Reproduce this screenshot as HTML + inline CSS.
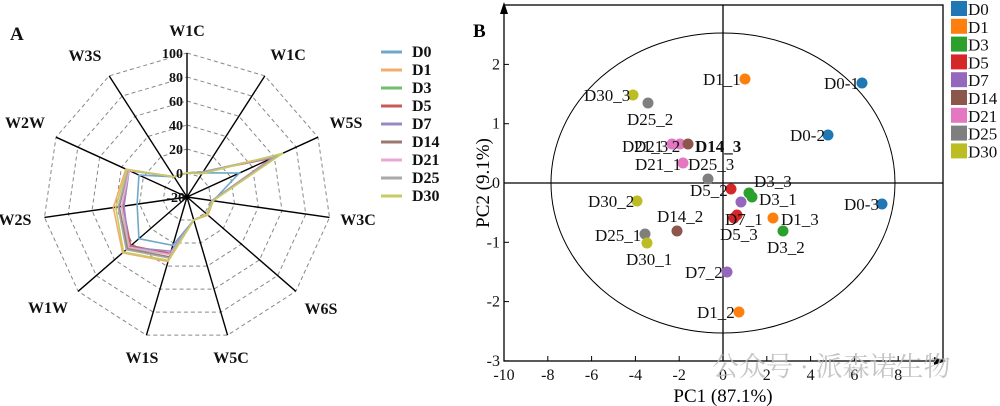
<!DOCTYPE html>
<html><head><meta charset="utf-8"><style>
html,body{margin:0;padding:0;background:#fff;width:1000px;height:406px;overflow:hidden}
svg{display:block}
text{font-family:"Liberation Serif","Noto Serif CJK SC",serif}
</style></head><body>
<svg id="s" width="1000" height="406" viewBox="0 0 1000 406" xmlns="http://www.w3.org/2000/svg">
<g id="radar"></g>
<g font-weight="bold" font-size="16" text-anchor="middle" fill="#111">
<text x="10" y="40" font-size="19" text-anchor="start">A</text>
<text x="187" y="36">W1C</text>
<text x="288" y="60">W1C</text>
<text x="346" y="128">W5S</text>
<text x="358" y="225">W3C</text>
<text x="321" y="314">W6S</text>
<text x="231" y="363">W5C</text>
<text x="142" y="363">W1S</text>
<text x="48" y="313">W1W</text>
<text x="15" y="225">W2S</text>
<text x="25" y="128">W2W</text>
<text x="85" y="61">W3S</text>
</g>
<g font-weight="bold" font-size="14" text-anchor="end" fill="#111">
<text x="183" y="58">100</text><text x="183" y="82">80</text><text x="183" y="106">60</text>
<text x="183" y="130">40</text><text x="183" y="154">20</text><text x="183" y="178">0</text><text x="185" y="202">-20</text>
</g>
<g id="leg" font-weight="bold" font-size="16" fill="#111"></g>

<text x="473" y="37" font-size="19" font-weight="bold">B</text>
<rect x="504" y="5" width="439" height="356" fill="none" stroke="#000" stroke-width="1.3"/>
<polygon points="504,2 500,14 508,14" fill="#000"/>
<polygon points="946,361 934,357 934,365" fill="#000"/>
<line x1="723" y1="5" x2="723" y2="361" stroke="#000" stroke-width="1.3"/>
<line x1="504" y1="183" x2="943" y2="183" stroke="#000" stroke-width="1.3"/>
<ellipse cx="723" cy="183" rx="172" ry="150" fill="none" stroke="#000" stroke-width="1"/>
<g id="ticks" font-size="16" fill="#111"></g>
<text x="723" y="402" font-size="19" text-anchor="middle">PC1 (87.1%)</text>
<text transform="translate(489,183) rotate(-90)" font-size="19" text-anchor="middle">PC2 (9.1%)</text>
<g id="pts"></g>
<g font-size="17" fill="#111">
<text x="703" y="85">D1_1</text>
<text x="824" y="89">D0-1</text>
<text x="584" y="101">D30_3</text>
<text x="627" y="125">D25_2</text>
<text x="790" y="141">D0-2</text>
<text x="622" y="152">D21_3</text><text x="634" y="152">D21_2</text>
<text x="695" y="152" font-weight="bold">D14_3</text>
<text x="635" y="170">D21_1</text><text x="688" y="170">D25_3</text>
<text x="754" y="187">D3_3</text>
<text x="690" y="196">D5_2</text>
<text x="759" y="205">D3_1</text>
<text x="588" y="207">D30_2</text>
<text x="844" y="210">D0-3</text>
<text x="657" y="222">D14_2</text>
<text x="725" y="225">D7_1</text>
<text x="781" y="225">D1_3</text>
<text x="720" y="240">D5_3</text>
<text x="595" y="241">D25_1</text>
<text x="767" y="253">D3_2</text>
<text x="626" y="265">D30_1</text>
<text x="685" y="278">D7_2</text>
<text x="697" y="318">D1_2</text>
</g>
<g id="pleg" font-size="17" fill="#111"></g>
<text x="712" y="376" font-size="27" fill="#bbb" opacity="0.85" font-family="'Noto Sans CJK SC',sans-serif">公众号 · 派森诺生物</text>
</svg>
<script>
const NS="http://www.w3.org/2000/svg";
function el(p,t,a,tx){const e=document.createElementNS(NS,t);for(const k in a)e.setAttribute(k,a[k]);if(tx!==undefined)e.textContent=tx;p.appendChild(e);return e;}
const cx=187,cy=197,N=11;
function pt(v,i){const r=(v+20)*1.2,a=i*2*Math.PI/N;return [cx+r*Math.sin(a),cy-r*Math.cos(a)];}
const R=document.getElementById('radar');
for(let v=0;v<=100;v+=20){el(R,'polygon',{points:[...Array(N).keys()].map(i=>pt(v,i).join(',')).join(' '),fill:'none',stroke:'#888','stroke-dasharray':'4,3','stroke-width':1});}
for(let i=0;i<N;i++){const p=pt(100,i);el(R,'line',{x1:cx,y1:cy,x2:p[0],y2:p[1],stroke:'#000','stroke-width':1.4});}
const ser=[
['D0','#6fa8c8',[0,4,28,2,3,0,22,33,22,24,0]],
['D1','#f2ad6e',[0,5,65,2,3,0,36,51,42,36,0]],
['D3','#6fbf6f',[0,5,60,1,2,0,30,45,35,33,0]],
['D5','#c85a5a',[0,5,58,1,2,0,29,42,34,33,0]],
['D7','#9a88c0',[0,5,60,1,2,0,27,44,33,33,0]],
['D14','#9a7a70',[0,5,62,1,2,0,32,46,37,34,0]],
['D21','#e9a9d6',[0,5,62,1,2,0,30,44,35,33,0]],
['D25','#a9a9a9',[0,5,63,1,2,0,33,47,38,34,0]],
['D30','#c8cc60',[0,3,68,2,2,0,35,50,40,35,0]]];
ser.forEach(s=>{el(R,'polygon',{points:s[2].map((v,i)=>pt(v,i).join(',')).join(' '),fill:'none',stroke:s[1],'stroke-width':1.6});});
const L=document.getElementById('leg');
ser.forEach((s,k)=>{const y=52+k*18;el(L,'line',{x1:381,y1:y,x2:402,y2:y,stroke:s[1],'stroke-width':3});el(L,'text',{x:412,y:y+5},s[0]);});
const T=document.getElementById('ticks');
for(let v=-10;v<=8;v+=2){const x=723+v*21.9;el(T,'line',{x1:x,y1:361,x2:x,y2:356,stroke:'#000'});el(T,'text',{x:x,y:380,'text-anchor':'middle'},v);}
for(let v=-3;v<=2;v++){const y=183-v*59.3;el(T,'line',{x1:504,y1:y,x2:509,y2:y,stroke:'#000'});el(T,'text',{x:500,y:y+5,'text-anchor':'end'},v);}
const C={D0:'#1f77b4',D1:'#ff7f0e',D3:'#2ca02c',D5:'#d62728',D7:'#9467bd',D14:'#8c564b',D21:'#e377c2',D25:'#7f7f7f',D30:'#bcbd22'};
const P=[['D1',745,79],['D0',862,83],['D30',633,95],['D25',648,103],['D0',828,135],['D21',672,144],['D21',680,144],['D14',688,144],['D21',683,163],['D25',708,179],['D5',731,189],['D3',749,193],['D3',752,197],['D7',741,202],['D30',637,201],['D0',882,204],['D5',737,215],['D5',734,218],['D1',773,218],['D3',783,231],['D14',677,231],['D25',645,234],['D30',647,243],['D7',727,272],['D1',739,312]];
const G=document.getElementById('pts');
P.forEach(p=>el(G,'circle',{cx:p[1],cy:p[2],r:5.5,fill:C[p[0]]}));
const PL=document.getElementById('pleg');
Object.keys(C).forEach((k,i)=>{const y=1+i*17.8;el(PL,'rect',{x:951,y:y,width:16,height:15,fill:C[k]});el(PL,'text',{x:968,y:y+14},k);});
</script>
</body></html>
